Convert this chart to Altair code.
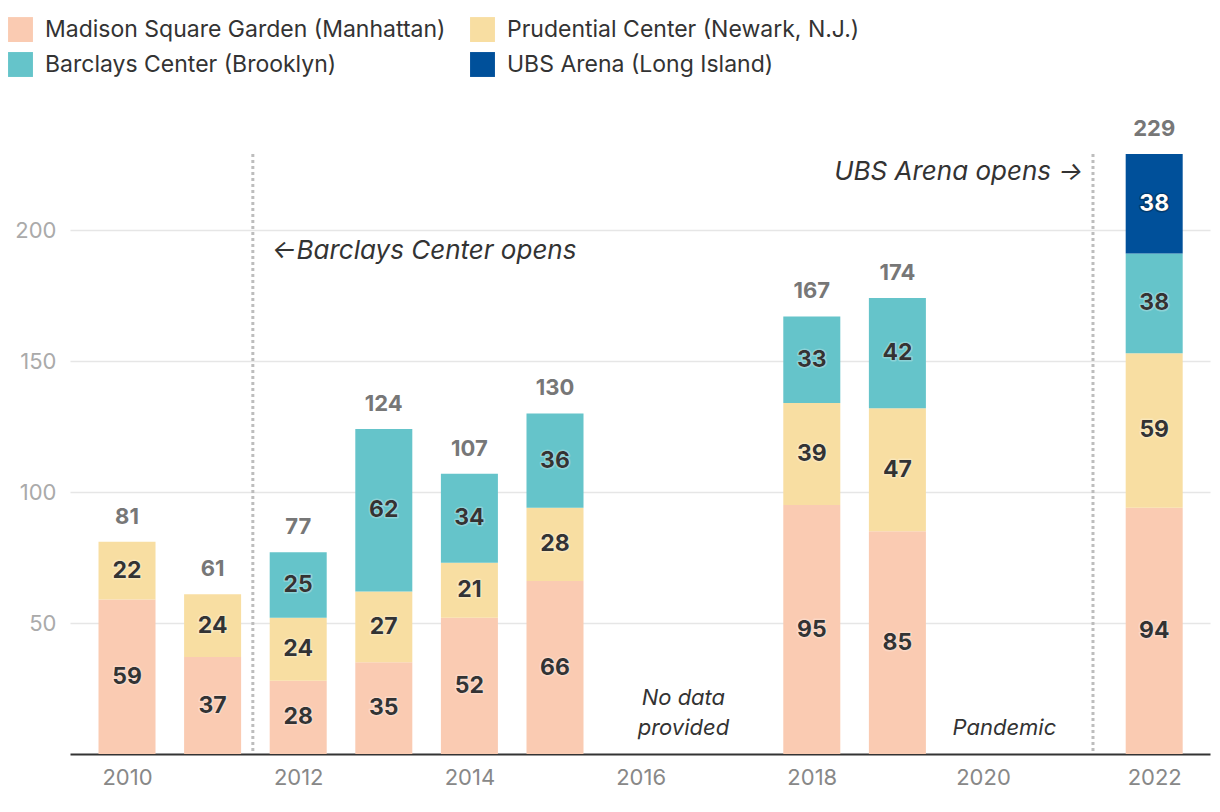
import altair as alt
import pandas as pd

years = [2010, 2011, 2012, 2013, 2014, 2015, 2018, 2019, 2022]
msg = [59, 37, 28, 35, 52, 66, 95, 85, 94]
prudential = [22, 24, 24, 27, 21, 28, 39, 47, 59]
barclays = [None, None, 25, 62, 34, 36, 33, 42, 38]
ubs = [None, None, None, None, None, None, None, None, 38]
totals = [81, 61, 77, 124, 107, 130, 167, 174, 229]

venues = [
    "Madison Square Garden (Manhattan)",
    "Prudential Center (Newark, N.J.)",
    "Barclays Center (Brooklyn)",
    "UBS Arena (Long Island)",
]
colors = ["#FACBB2", "#F8DEA2", "#65C4CA", "#00509A"]
x_ticks = [2010, 2012, 2014, 2016, 2018, 2020, 2022]
y_ticks = [50, 100, 150, 200]

rows = []
for i, yr in enumerate(years):
    for k, series in enumerate([msg, prudential, barclays, ubs]):
        v = series[i]
        if v is not None:
            rows.append({"year": yr, "venue": venues[k], "idx": k, "value": v})
df = pd.DataFrame(rows)
tot_df = pd.DataFrame({"year": years, "total": totals})

rules_df = pd.DataFrame({"x": [2011.47, 2021.285]})
ann_left = pd.DataFrame({"x": [2011.69], "y": [192], "t": ["\u2190Barclays Center opens"]})
ann_right = pd.DataFrame({"x": [2021.17], "y": [222], "t": ["UBS Arena opens \u2192"]})
ann_center = pd.DataFrame({
    "x": [2016.5, 2016.5, 2020.25],
    "y": [21.5, 10, 10],
    "t": ["No data", "provided", "Pandemic"],
})

FONT = "Inter"
xscale = alt.Scale(domain=[2009.334, 2022.652], nice=False, zero=False)
yscale = alt.Scale(domain=[0, 250], nice=False)

xaxis = alt.Axis(values=x_ticks, format="d", title=None, grid=False, ticks=False,
                 domain=True, domainColor="#333333", domainWidth=2,
                 labelFontSize=22, labelColor="#888888", labelPadding=13, labelFont=FONT)
yaxis = alt.Axis(values=y_ticks, title=None, grid=True, gridColor="#e6e6e6", gridWidth=1.5,
                 ticks=False, domain=False, labelFontSize=22, labelColor="#aaaaaa",
                 labelPadding=14, labelFont=FONT)

stacked = alt.Chart(df).transform_stack(
    stack="value", groupby=["year"], sort=[alt.SortField("idx")], as_=["y0", "y1"]
).transform_calculate(
    mid="(datum.y0 + datum.y1) / 2",
    x0="datum.year - 0.333",
    x1="datum.year + 0.333",
)

bars = stacked.mark_bar().encode(
    x=alt.X("x0:Q", scale=xscale, axis=xaxis),
    x2="x1:Q",
    y=alt.Y("y0:Q", scale=yscale, axis=yaxis),
    y2="y1:Q",
    color=alt.Color("venue:N", scale=alt.Scale(domain=venues, range=colors),
                    legend=alt.Legend(title=None, orient="none", legendX=-62, legendY=-82,
                                      direction="horizontal", columns=2,
                                      symbolType="square", symbolSize=620,
                                      symbolStrokeWidth=0, symbolOpacity=1,
                                      labelFontSize=23, labelColor="#333333", labelFont=FONT,
                                      labelLimit=600, columnPadding=24, rowPadding=10,
                                      symbolOffset=0, labelOffset=12)),
)

halo = stacked.mark_text(font=FONT, fontSize=23, fontWeight="bold", strokeWidth=3,
                         strokeOpacity=0.25, strokeJoin="round").encode(
    x=alt.X("year:Q", scale=xscale),
    y=alt.Y("mid:Q", scale=yscale),
    text="value:Q",
    color=alt.condition("datum.idx == 3", alt.value("#000000"), alt.value("#ffffff")),
    stroke=alt.condition("datum.idx == 3", alt.value("#000000"), alt.value("#ffffff")),
)
seg_labels = stacked.mark_text(font=FONT, fontSize=23, fontWeight="bold").encode(
    x=alt.X("year:Q", scale=xscale),
    y=alt.Y("mid:Q", scale=yscale),
    text="value:Q",
    color=alt.condition("datum.idx == 3", alt.value("#ffffff"), alt.value("#333333")),
)

tot_labels = alt.Chart(tot_df).mark_text(font=FONT, fontSize=22, fontWeight="bold",
                                         color="#777777", baseline="middle", dy=-25).encode(
    x=alt.X("year:Q", scale=xscale),
    y=alt.Y("total:Q", scale=yscale),
    text="total:Q",
)

rules = alt.Chart(rules_df).mark_rule(color="#bdbdbd", strokeWidth=3, strokeDash=[3, 3]).encode(
    x=alt.X("x:Q", scale=xscale),
    y=alt.datum(229, scale=yscale),
    y2=alt.datum(0),
)

t_left = alt.Chart(ann_left).mark_text(font=FONT, fontSize=26, fontStyle="italic",
                                       align="left", baseline="middle", color="#333333").encode(
    x=alt.X("x:Q", scale=xscale), y=alt.Y("y:Q", scale=yscale), text="t:N")
t_right = alt.Chart(ann_right).mark_text(font=FONT, fontSize=26, fontStyle="italic",
                                         align="right", baseline="middle", color="#333333").encode(
    x=alt.X("x:Q", scale=xscale), y=alt.Y("y:Q", scale=yscale), text="t:N")
t_center = alt.Chart(ann_center).mark_text(font=FONT, fontSize=22, fontStyle="italic",
                                           align="center", baseline="middle", color="#333333").encode(
    x=alt.X("x:Q", scale=xscale), y=alt.Y("y:Q", scale=yscale), text="t:N")

chart = alt.layer(
    bars, rules, halo, seg_labels, tot_labels, t_left, t_right, t_center
).properties(
    width=1140, height=655,
    autosize=alt.AutoSizeParams(type="none"),
    padding={"left": 70, "top": 99, "right": 10, "bottom": 58},
    background="white",
).configure_view(stroke=None)

chart.save("out.html", embed_options={"renderer": "svg", "actions": False})
